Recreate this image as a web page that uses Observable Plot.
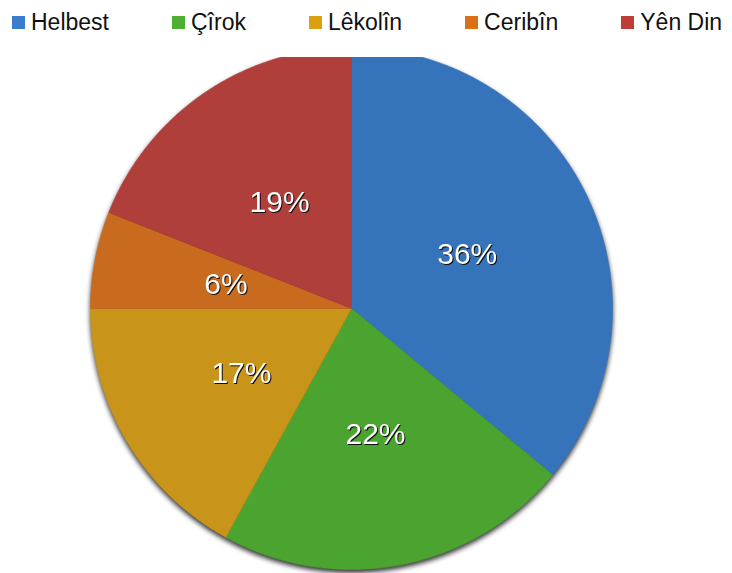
<!DOCTYPE html>
<html>
<head>
<meta charset="utf-8">
<script src="https://cdn.jsdelivr.net/npm/d3@7"></script>
<script src="https://cdn.jsdelivr.net/npm/@observablehq/plot@0.6"></script>
<style>
  html, body { margin: 0; padding: 0; background: #fff; }
  body { width: 732px; height: 573px; overflow: hidden; font-family: "Liberation Sans", Arial, Helvetica, sans-serif; }
  #legend { height: 57px; display: flex; align-items: flex-start; padding-left: 12px; gap: 63px; box-sizing: border-box; }
  .item { display: flex; align-items: center; margin-top: 9px; font-size: 23px; color: #111; white-space: nowrap; }
  .sw { width: 13px; height: 13px; margin-right: 6px; display: inline-block; }
  #chart svg { display: block; overflow: hidden; }
</style>
</head>
<body>
<div id="legend"></div>
<div id="chart"></div>
<script>
const categories = ["Helbest", "Çîrok", "Lêkolîn", "Ceribîn", "Yên Din"];
const values = [36, 22, 17, 6, 19];
const labels = ["36%", "22%", "17%", "6%", "19%"];
const pieColors = ["#3574ba", "#4aa42f", "#c8951a", "#c96b1f", "#b03f3b"];
const legendColors = ["#3a7dcc", "#4eb030", "#d9a012", "#dc7016", "#c03c37"];

// legend
const legend = document.getElementById("legend");
categories.forEach((c, i) => {
  const it = document.createElement("div");
  it.className = "item";
  it.innerHTML = `<span class="sw" style="background:${legendColors[i]}"></span><span>${c}</span>`;
  legend.appendChild(it);
});

// pie geometry from data
const total = d3.sum(values);
const pts = [];
const labelPts = [];
let cum = 0;
categories.forEach((c, i) => {
  const a0 = cum / total * 2 * Math.PI;
  cum += values[i];
  const a1 = cum / total * 2 * Math.PI;
  pts.push({cat: c, x: 0, y: 0});
  const n = Math.max(2, Math.ceil((a1 - a0) / (Math.PI / 360)));
  for (let k = 0; k <= n; k++) {
    const a = a0 + (a1 - a0) * k / n;
    pts.push({cat: c, x: Math.sin(a), y: Math.cos(a)});
  }
  const am = (a0 + a1) / 2;
  labelPts.push({cat: c, label: labels[i], x: 0.49 * Math.sin(am), y: 0.49 * Math.cos(am)});
});

const plot = Plot.plot({
  width: 732,
  height: 516,
  x: {domain: [-1, 1], range: [90, 612], axis: null},
  y: {domain: [-1, 1], range: [512, -10], axis: null},
  color: {domain: categories, range: pieColors},
  style: {background: "transparent", overflow: "hidden"},
  marks: [
    Plot.line(pts, {x: "x", y: "y", z: "cat", fill: "cat", stroke: "cat", strokeWidth: 0.6, curve: "linear"}),
    Plot.text(labelPts, {x: "x", y: "y", text: "label", fill: "white", fontSize: 30, fontFamily: "Liberation Sans, Arial, sans-serif"})
  ]
});
const lineG = plot.querySelector('g[aria-label="line"]');
if (lineG) lineG.style.filter = "drop-shadow(0px 3px 2.5px rgba(0,0,0,0.8))";
const textG = plot.querySelector('g[aria-label="text"]');
if (textG) textG.style.filter = "drop-shadow(1.5px 1.8px 0px #111)";
document.getElementById("chart").appendChild(plot);
</script>
</body>
</html>
